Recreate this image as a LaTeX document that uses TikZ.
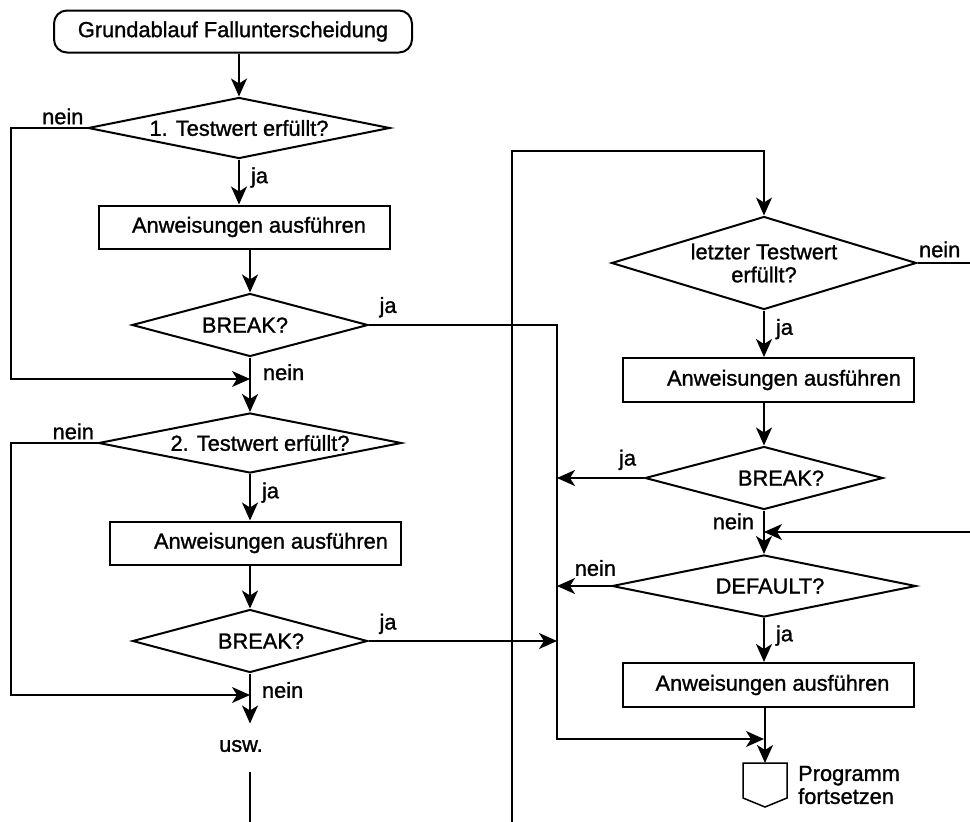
\documentclass[tikz,border=0pt]{standalone}
\usepackage{fontspec}
\setmainfont{Liberation Sans}
\newfontfamily\flussfont{Liberation Sans}[FakeBold=1.2]
\usepackage{tikz}
\usetikzlibrary{shapes.geometric, positioning, arrows.meta}

\begin{document}
\begin{tikzpicture}[
    x = 1pt, y = -1pt,
    font = \flussfont\fontsize{21.8}{23}\selectfont,
    >= {Stealth[length=18pt, width=16pt, inset=5pt]},
    every node/.style = {inner sep=0pt},
    anfang/.style = {
        draw, line width=2pt, rectangle, rounded corners=13pt,
        minimum width=358pt, minimum height=42pt
    },
    anweisung/.style = {
        draw, line width=2pt, rectangle, minimum width=291pt, minimum height=43pt
    },
    entscheidung/.style = {draw, line width=2pt, diamond, aspect=5, inner sep=-12pt},
    fluss/.style = {->, line width=2pt},
    schleife/.style = {line width=1.2pt}
  ]
    \useasboundingbox (0,0) rectangle (970,822);

    % linke Spalte
    \node[anfang] (start) at (233,31.5) {Grundablauf Fallunterscheidung};
    \node[entscheidung, minimum width=302pt, minimum height=61pt] (test1) at (239,128) {1. Testwert erfüllt?};
    \node[anweisung] (anw1) at (244.5,227) {\hspace*{9pt}Anweisungen ausführen};
    \node[entscheidung, minimum width=236pt, minimum height=63pt] (break1) at (250,325) {BREAK?\hspace*{10pt}};
    \node[entscheidung, minimum width=303pt, minimum height=60pt] (test2) at (250,443) {\hspace*{20pt}2. Testwert erfüllt?};
    \node[anweisung] (anw2) at (255,543) {\hspace*{32pt}Anweisungen ausführen};
    \node[entscheidung, minimum width=235pt, minimum height=63pt] (break2) at (250,641) {\hspace*{22pt}BREAK?};
    \node (usw) at (241,746) {usw.};

    % rechte Spalte
    \node[entscheidung, minimum width=305pt, minimum height=93pt, align=center] (testN) at (764,263) {letzter Testwert\\erfüllt?};
    \node[anweisung, minimum height=44pt] (anw3) at (768,380) {\hspace*{32pt}Anweisungen ausführen};
    \node[entscheidung, minimum width=238pt, minimum height=63pt] (break3) at (764,478) {\hspace*{34pt}BREAK?};
    \node[entscheidung, minimum width=304pt, minimum height=62pt] (default) at (764,586) {\hspace*{12pt}DEFAULT?};
    \node[anweisung, minimum height=44pt] (anw4) at (768.5,685) {\hspace*{8pt}Anweisungen ausführen};
    \node[align=left, anchor=west] (weiter) at (798,785) {Programm\\fortsetzen};
    \draw[line width=1.5pt] (743,763) -- (787,763) -- (787,798) -- (765,807) -- (743,798) -- cycle;  % Fortsetzung

    % Hilfspunkte
    \coordinate (m1) at (250,379);
    \coordinate (m2) at (250,695);
    \coordinate (m3) at (764,532);
    \coordinate (m4) at (764,739);
    \coordinate (s1) at (557,325);
    \coordinate (s2) at (557,739);
    \coordinate (oben1) at (512,151);
    \coordinate (oben2) at (512,822);
    \coordinate (unten1) at (250,772);
    \coordinate (unten2) at (250,822);
    \coordinate (rechts1) at (970,263);
    \coordinate (rechts2) at (970,532);
    \coordinate (ende) at (765,763);

    % Verbindungen links
    \draw[fluss] (start.south -| test1) -- (test1.north);
    \draw[fluss] (test1.south) -- (test1.south |- anw1.north) node[pos=0.4, right=11pt] {ja};
    \draw[fluss] (anw1.south -| break1) -- (break1.north);
    \draw[fluss] (break1.south) -- (test2.north) node[pos=0.27, right=12pt] {nein};
    \draw[schleife, ->] (test1.west) node[anchor=south east, xshift=-3pt, yshift=3pt] {nein} -- ++(-76,0) |- (m1);
    \draw[fluss] (test2.south) -- (test2.south |- anw2.north) node[pos=0.4, right=11pt] {ja};
    \draw[fluss] (anw2.south -| break2) -- (break2.north);
    \draw[fluss] (break2.south) -- ++(0,50) node[pos=0.33, right=11pt] {nein};
    \draw[schleife, ->] (test2.west) node[anchor=south east, xshift=-3pt, yshift=3pt] {nein} -- ++(-86.5,0) |- (m2);
    \draw[schleife] (unten1) -- (unten2);

    % Verbindungen rechts
    \draw[schleife, ->] (break1.east) node[anchor=south west, xshift=10pt, yshift=7pt] {ja} -- (s1) -- (s2) -- (m4);
    \draw[fluss] (break2.east) node[anchor=south west, xshift=10pt, yshift=6pt] {ja} -- (break2.east -| s1);
    \draw[schleife, ->] (oben2) -- (oben1) -- (oben1 -| testN) -- (testN.north);
    \draw[schleife] (testN.east) node[anchor=south west, xshift=1pt, yshift=5pt] {nein} -- (rechts1);
    \draw[fluss] (testN.south) -- (testN.south |- anw3.north) node[pos=0.4, right=11pt] {ja};
    \draw[fluss] (anw3.south -| break3) -- (break3.north);
    \draw[fluss] (break3.west) node[anchor=south east, xshift=-7pt, yshift=7pt] {ja} -- (break3.west -| s1);
    \draw[fluss] (break3.south) -- (default.north) node[pos=0.25, left=9pt] {nein};
    \draw[schleife, ->] (rechts2) -- (m3);
    \draw[fluss] (default.west) node[anchor=south east, xshift=6pt, yshift=9pt] {nein} -- (default.west -| s1);
    \draw[fluss] (default.south) -- (default.south |- anw4.north) node[pos=0.4, right=11pt] {ja};
    \draw[fluss] (anw4.south -| ende) -- (ende);
\end{tikzpicture}
\end{document}
